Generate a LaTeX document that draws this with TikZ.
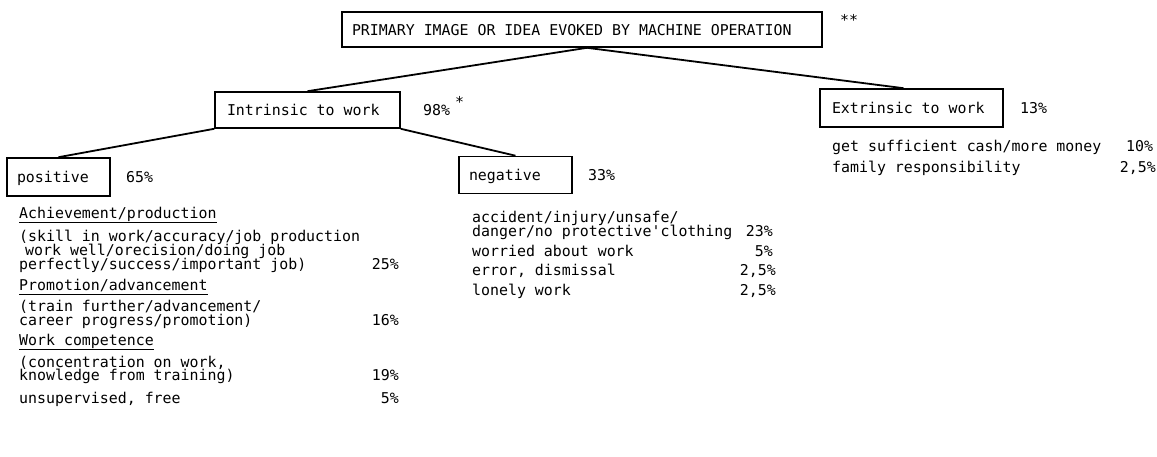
\documentclass[tikz,border=0pt]{standalone}
\usepackage{fontspec}
\setmonofont{DejaVu Sans Mono}
\newcommand\tw{\ttfamily\fontsize{14.9}{14.5}\selectfont}
\begin{document}
\begin{tikzpicture}[x=1pt,y=-1pt,
  box/.style={draw, line width=1.6pt, inner ysep=0pt, font=\tw,
    text height=11pt, text depth=0pt},
  txt/.style={font=\tw, inner sep=0pt, anchor=base west},
  pct/.style={font=\tw, inner sep=0pt, anchor=base east},
  link/.style={line width=1.8pt},
  uline/.style={line width=0.8pt}]
\useasboundingbox (0,0) rectangle (1157,456);

% category boxes (text set left in a fixed-width box)
\node[box, minimum height=35pt, inner xsep=10pt]
  (top) at (582,29.5) {\makebox[460pt][l]{PRIMARY IMAGE OR IDEA EVOKED BY MACHINE OPERATION}};
\node[box, minimum height=36pt, inner xsep=12pt]
  (intr) at (307.5,110) {\makebox[161pt][l]{Intrinsic to work}};
\node[box, minimum height=38pt, inner xsep=12pt]
  (extr) at (911.5,108) {\makebox[159pt][l]{Extrinsic to work}};
\node[box, minimum height=38pt, inner xsep=10pt]
  (pos) at (58.5,177) {\makebox[83pt][l]{positive}};
\node[box, minimum height=37pt, inner xsep=10pt]
  (neg) at (515.5,175) {\makebox[93pt][l]{negative}};

% tree connectors
\draw[link] ([xshift=5pt]top.south) -- (intr.north);
\draw[link] ([xshift=5pt]top.south) -- ([xshift=-8pt]extr.north);
\draw[link] (intr.south west) -- (pos.north);
\draw[link] (intr.south east) -- (neg.north);

% shares beside the boxes
\node[txt] (topnote) at (840,25) {**};
\node[txt] (p98) at (423,115.5) {98\%};
\node[txt] (p98note) at (455,107) {*};
\node[txt] (p13) at (1020,113.5) {13\%};
\node[txt] (p65) at (126,182.5) {65\%};
\node[txt] (p33) at (588,180.5) {33\%};

% positive images
\node[txt] (ach) at (19,218) {Achievement/production};
\draw[uline] ([yshift=-4pt]ach.base west) -- ([yshift=-4pt]ach.base east);
\node[txt] (achA) at (19,241) {(skill in work/accuracy/job production};
\node[txt] (achB) at (19,255) {\hspace*{6pt}work well/orecision/doing job};
\node[txt] (achC) at (19,269) {perfectly/success/important job)};
\node[pct] (p25) at (399,269) {25\%};

\node[txt] (prom) at (19,290) {Promotion/advancement};
\draw[uline] ([yshift=-4pt]prom.base west) -- ([yshift=-4pt]prom.base east);
\node[txt] (promA) at (19,311) {(train further/advancement/};
\node[txt] (promB) at (19,325) {career progress/promotion)};
\node[pct] (p16) at (399,325) {16\%};

\node[txt] (wc) at (19,345) {Work competence};
\draw[uline] ([yshift=-4pt]wc.base west) -- ([yshift=-4pt]wc.base east);
\node[txt] (wcA) at (19,367) {(concentration on work,};
\node[txt] (wcB) at (19,380.5) {knowledge from training)};
\node[pct] (p19) at (399,380.5) {19\%};

\node[txt] (uns) at (19,403) {unsupervised, free};
\node[pct] (p5a) at (399,403) {5\%};

% negative images
\node[txt] (acc) at (472,222) {accident/injury/unsafe/};
\node[txt] (accB) at (472,236) {danger/no protective \llap{'}clothing};
\node[pct] (p23) at (773,236) {23\%};
\node[txt] (wor) at (472,256) {worried about work};
\node[pct] (p5b) at (773,256) {5\%};
\node[txt] (err) at (472,275.5) {error, dismissal};
\node[pct] (p25b) at (776,275.5) {2,5\%};
\node[txt] (lon) at (472,295) {lonely work};
\node[pct] (p25c) at (776,295) {2,5\%};

% extrinsic images
\node[txt] (cash) at (832,151) {get sufficient cash/more money};
\node[txt] (p10) at (1126,151) {10\%};
\node[txt] (fam) at (832,172) {family responsibility};
\node[pct] (p25d) at (1156,172) {2,5\%};
\end{tikzpicture}
\end{document}
